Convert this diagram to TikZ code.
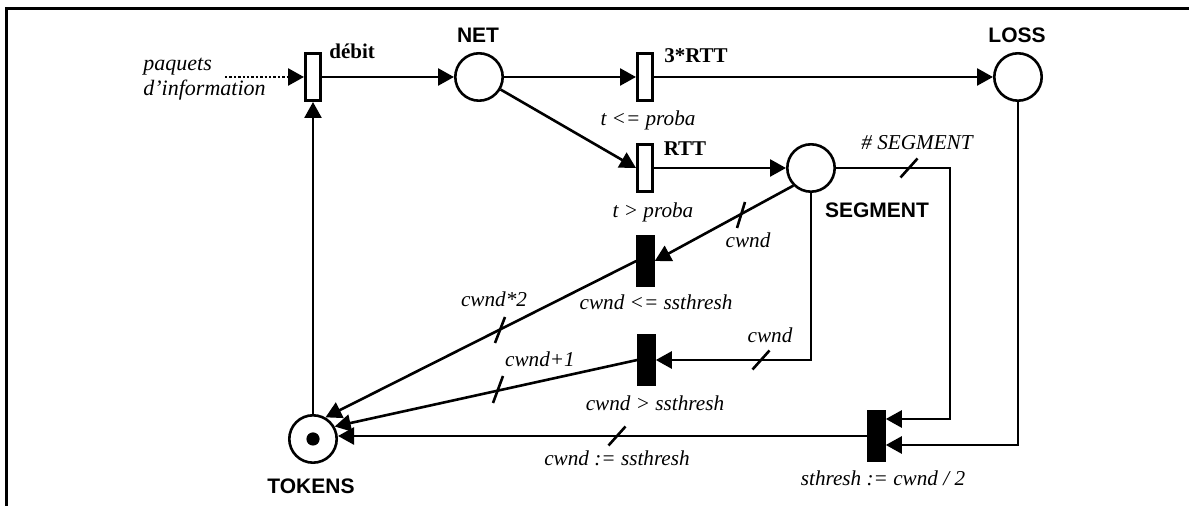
\documentclass[tikz,border=0pt]{standalone}
\usepackage{fontspec}
\setmainfont{Liberation Serif}
\newfontfamily\arialfont{Liberation Sans}
\usetikzlibrary{arrows.meta}
\begin{document}
\begin{tikzpicture}[x=0.5pt,y=-0.5pt,
  every node/.style={font=\fontsize{10.5}{12.5}\selectfont},
  pl/.style={circle,draw,line width=1.3pt,minimum size=23.7pt,inner sep=0pt,fill=white},
  tr/.style={rectangle,draw,line width=1.3pt,minimum width=7.7pt,minimum height=23.7pt,inner sep=0pt,fill=white},
  btr/.style={tr,fill=black,minimum width=8pt,minimum height=24.8pt},
  conn/.style={line width=1.3pt,-{Triangle[length=8pt,width=8.5pt]}},
  tk/.style={line width=1.3pt},
  lbl/.style={font=\fontsize{10.6}{12.5}\selectfont\itshape},
  bsf/.style={font=\fontsize{10.5}{12.5}\selectfont\arialfont\bfseries},
  bsr/.style={font=\fontsize{10.5}{12.5}\selectfont\bfseries}
]
\useasboundingbox (0,0) rectangle (1189,506);
% frame
\draw[line width=1.5pt] (6,506) -- (6,9) -- (1189,9);

% places and transitions
\node[tr] (debit) at (313,77) {};
\node[pl] (net) at (479,77) {};
\node[tr] (rtt3) at (645,77) {};
\node[pl] (loss) at (1018,77) {};
\node[tr] (rtt) at (645,168) {};
\node[pl] (seg) at (811,168) {};
\node[btr] (tle) at (645.5,261) {};
\node[btr] (tgt) at (646.5,360) {};
\node[btr] (tst) at (876.5,436) {};
\node[pl] (tok) at (313,439) {};
\fill (tok) circle[radius=3.3pt];

% labels
\node[bsr, anchor=base west, inner sep=0pt] (ldebit) at (329,59) {débit};
\node[bsf] (lnet) at (478,35) {NET};
\node[bsr] (lrtt3) at (696,56) {3*RTT};
\node[bsf] (lloss) at (1017,35) {LOSS};
\node[lbl] (lp1) at (648,120) {t <= proba};
\node[bsr] (lrtt) at (685,149) {RTT};
\node[lbl] (lp2) at (653,212) {t > proba};
\node[lbl] (lsegn) at (917,143) {\# SEGMENT};
\node[bsf] (lseg) at (877,210) {SEGMENT};
\node[lbl] (lc1) at (748,240) {cwnd};
\node[lbl] (ltle) at (656,302) {cwnd <= ssthresh};
\node[lbl] (lc2) at (494,299) {cwnd*2};
\node[lbl] (lc3) at (770,335) {cwnd};
\node[lbl] (lc4) at (540,359) {cwnd+1};
\node[lbl] (ltgt) at (655,403) {cwnd > ssthresh};
\node[lbl] (lcs) at (617,458) {cwnd := ssthresh};
\node[lbl] (lst) at (883,478) {sthresh := cwnd / 2};
\node[bsf] (ltok) at (311,486) {TOKENS};
\node[lbl, font=\fontsize{11}{12.5}\selectfont\itshape, align=left, anchor=west, inner sep=0pt] (lin) at (143,79) {paquets\\d'information};

% connectors
\coordinate (pin) at (225,77);
\draw[conn, dash pattern=on 1.2pt off 1pt] (pin) -- (debit.west);
\draw[conn] (debit) -- (net);
\draw[conn] (net) -- (rtt3);
\draw[conn] (rtt3) -- (loss);
\draw[conn] (net) -- (rtt.west);
\draw[conn] (rtt) -- (seg);
\draw[conn] (tok) -- (debit);
\draw[conn] (seg.225) -- (tle.east);
\draw[conn] (seg.south) |- (tgt.east);
\coordinate (c1) at (950,419);
\draw[conn] (seg.east) -| (c1) -- (c1 -| tst.east);
\coordinate (c2) at (1018,445);
\draw[conn] (loss.south) -- (c2) -- (c2 -| tst.east);
\draw[conn] (tle.west) -- (tok.60);
\draw[conn] (tgt.west) -- (tok.30);
\draw[conn] (tst.west) -- (tst.west -| tok.east);

% ticks
\draw[tk] (900.5,177.5) -- (917.5,158.5);
\draw[tk] (752.5,369.5) -- (769.5,350.5);
\draw[tk] (608.5,445.5) -- (625.5,426.5);
\draw[tk] (495,343) -- (505,317);
\draw[tk] (493,403) -- (503,376);
\draw[tk] (737,228) -- (745,202);
\end{tikzpicture}
\end{document}
